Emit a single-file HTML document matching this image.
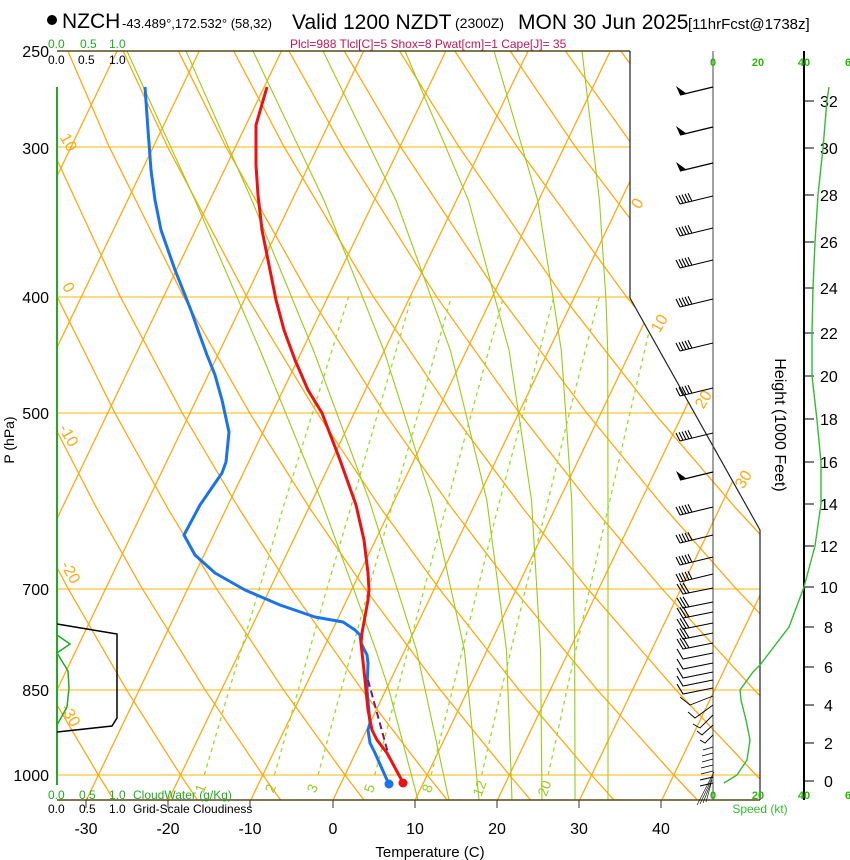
<!DOCTYPE html>
<html><head><meta charset="utf-8">
<style>
html,body{margin:0;padding:0;background:#fff;}
svg{display:block;font-family:"Liberation Sans",Arial,sans-serif;}
</style></head>
<body>
<svg width="850" height="860" viewBox="0 0 850 860" xmlns="http://www.w3.org/2000/svg">
<defs>
<clipPath id="cp"><polygon points="57,51 630,51 630,298 760,530 760,800 57,800"/></clipPath>
<g id="fb" fill="none" stroke="#000" stroke-width="1.1"><path d="M713,0 L680,8 M680,8 l-4,-8 M683,7.3 l-4,-8 M686,6.6 l-4,-8 M689,5.9 l-4,-8 M692,5.2 l-4,-8"/></g>
<g id="pb"><path d="M713,0 L680,8" stroke="#000" stroke-width="1.4"/><polygon points="680,8 676,-1 687,7" fill="#000"/></g>
<g id="lb3" fill="none" stroke="#000" stroke-width="1.1"><path d="M713,0 L683,6 l-6,-10 M686,5.4 l-6,-10 M689,4.8 l-6,-10"/></g>
<g id="lb1" fill="none" stroke="#000" stroke-width="1.1"><path d="M713,0 L683,6 l-6,-10"/></g>
</defs>
<g clip-path="url(#cp)" fill="none">
<g stroke="#ffc43d" stroke-width="1.2">
<line x1="57" y1="775" x2="760" y2="775"/><line x1="57" y1="690" x2="760" y2="690"/><line x1="57" y1="589" x2="760" y2="589"/>
<line x1="57" y1="413" x2="760" y2="413"/><line x1="57" y1="297" x2="760" y2="297"/><line x1="57" y1="147" x2="760" y2="147"/>
</g>
<g stroke="#fcaa12" stroke-width="1.3">
<line x1="-242.4" y1="800" x2="117.1" y2="51"/><line x1="-160.2" y1="800" x2="199.3" y2="51"/><line x1="-78" y1="800" x2="281.5" y2="51"/>
<line x1="4.2" y1="800" x2="363.7" y2="51"/><line x1="86.4" y1="800" x2="445.9" y2="51"/><line x1="168.6" y1="800" x2="528.1" y2="51"/>
<line x1="250.8" y1="800" x2="610.3" y2="51"/><line x1="333" y1="800" x2="692.5" y2="51"/><line x1="415.2" y1="800" x2="774.7" y2="51"/>
<line x1="497.4" y1="800" x2="856.9" y2="51"/><line x1="579.6" y1="800" x2="939.1" y2="51"/><line x1="661.8" y1="800" x2="1021.3" y2="51"/>
</g>
<g stroke="#fcaa12" stroke-width="1.3">
<polyline points="114.3,800.5 98.4,775 48.3,690.2 -6,588.8"/>
<polyline points="197.7,800.5 180.6,775 126.8,690.2 68.2,588.8 25.8,508.4"/>
<polyline points="281,800.5 262.8,775 205.3,690.2 142.4,588.8 96.8,508.4 47.6,413.2"/>
<polyline points="364.3,800.5 345,775 283.8,690.2 216.6,588.8 167.8,508.4 115,413.2 57.1,296.7 -7.4,146.5"/>
<polyline points="447.7,800.5 427.2,775 362.2,690.2 290.9,588.8 238.9,508.4 182.4,413.2 120.3,296.7 50.9,146.5 20,51.4"/>
<polyline points="531,800.5 509.4,775 440.7,690.2 365.1,588.8 309.9,508.4 249.8,413.2 183.6,296.7 109.1,146.5 68,51.4"/>
<polyline points="614.4,800.5 591.6,775 519.2,690.2 439.3,588.8 380.9,508.4 317.3,413.2 246.8,296.7 167.4,146.5 123.3,51.4"/>
<polyline points="697.8,800.5 673.8,775 597.6,690.2 513.5,588.8 452,508.4 384.7,413.2 310.1,296.7 225.7,146.5 178.6,51.4"/>
<polyline points="781.1,800.5 756,775 676.1,690.2 587.7,588.8 523,508.4 452.1,413.2 373.4,296.7 283.9,146.5 233.9,51.4"/>
<polyline points="865,800.5 838.2,775 754.6,690.2 662,588.8 594,508.4 519.5,413.2 436.6,296.7 342.2,146.5 289.2,51.4"/>
<polyline points="920,775 833,690.2 736.2,588.8 665.1,508.4 586.9,413.2 499.9,296.7 400.4,146.5 344.5,51.4"/>
<polyline points="900,690 810.4,588.8 736.1,508.4 654.3,413.2 563.1,296.7 458.7,146.5 399.8,51.4"/>
<polyline points="880,588 807.1,508.4 721.7,413.2 626.4,296.7 516.9,146.5 455.1,51.4"/>
<polyline points="860,500 789.2,413.2 689.6,296.7 575.2,146.5 510.4,51.4"/>
<polyline points="840,350 752.9,296.7 633.5,146.5 565.7,51.4"/>
<polyline points="800,200 691.7,146.5 621,51.4"/>
<polyline points="850,120 749.9,146.5 676.3,51.4"/>
</g>
<g stroke="#99dd22" stroke-width="1.3" stroke-dasharray="4,4">
<polyline points="204.3,775 229.1,690.2 259.3,588.8 282.9,508.4 312.5,413.2 348.6,296.7"/>
<polyline points="274.5,775 298.2,690.2 326.9,588.8 350.5,508.4 377.8,413.2 411.8,296.7"/>
<polyline points="318.1,775 341,690.2 368.8,588.8 391.3,508.4 418.2,413.2 451.3,296.7"/>
<polyline points="374.7,775 397.5,690.2 424.2,588.8 445.7,508.4 471.5,413.2 503.6,296.7"/>
<polyline points="431.2,775 452.3,690.2 477.7,588.8 497.7,508.4 523.1,413.2 553.9,296.7"/>
<polyline points="481.7,775 501.3,690.2 525.6,588.8 546.2,508.4 569.3,413.2 599.2,296.7"/>
<polyline points="548.2,775 566.8,690.2 589.7,588.8 608,508.4 629.9,413.2 657.3,296.7"/>
</g>
<g stroke="#99cc11" stroke-width="1.1">
<polyline points="418,800 389,690 375.8,650 321.1,500 260.4,351 195.4,201 127,51"/>
<polyline points="449,800 416.5,650 369.1,500 313.7,351 252.2,201 186,51"/>
<polyline points="479,800 464.4,650 431.4,500 384.1,351 324.3,201 253,51"/>
<polyline points="512,800 506.5,650 486.8,500 450.6,351 396.3,201 323,51"/>
<polyline points="542,800 540.5,650 531.5,500 509.2,351 468.7,201 405,51"/>
<polyline points="575,800 574.7,650 571.7,500 561.4,351 537.9,201 494,51"/>
<polyline points="608,800 608,500 607.7,350 606,300 599.5,201 582,51"/>
</g>
</g>
<g font-size="16" fill="#fcaa12" text-anchor="middle">
<text transform="translate(64,145) rotate(60)">10</text>
<text transform="translate(64,290) rotate(60)">0</text>
<text transform="translate(64,438) rotate(60)">-10</text>
<text transform="translate(66,575) rotate(60)">-20</text>
<text transform="translate(66,718) rotate(60)">-30</text>
<text transform="translate(642,206) rotate(-60)">0</text>
<text transform="translate(664,326) rotate(-60)">10</text>
<text transform="translate(708,402) rotate(-60)">20</text>
<text transform="translate(748,482) rotate(-60)">30</text>
</g>
<g font-size="14" fill="#99cc22" text-anchor="middle">
<text transform="translate(205,790) rotate(-70)">1</text>
<text transform="translate(275,790) rotate(-70)">2</text>
<text transform="translate(317,790) rotate(-70)">3</text>
<text transform="translate(374,790) rotate(-70)">5</text>
<text transform="translate(432,790) rotate(-70)">8</text>
<text transform="translate(484,790) rotate(-70)">12</text>
<text transform="translate(549,790) rotate(-70)">20</text>
</g>
<line x1="57" y1="51" x2="630" y2="51" stroke="#5a4a1a" stroke-width="1.5"/>
<polyline points="630,51 630,298 760,530 760,800" fill="none" stroke="#222" stroke-width="1.2"/>
<line x1="57" y1="800" x2="760" y2="800" stroke="#5a4a1a" stroke-width="1.5"/>
<g stroke="#333"><line x1="86" y1="800" x2="86" y2="808"/><line x1="168" y1="800" x2="168" y2="808"/><line x1="250" y1="800" x2="250" y2="808"/><line x1="333" y1="800" x2="333" y2="808"/><line x1="415" y1="800" x2="415" y2="808"/><line x1="497" y1="800" x2="497" y2="808"/><line x1="579" y1="800" x2="579" y2="808"/><line x1="661" y1="800" x2="661" y2="808"/></g>
<line x1="713" y1="51" x2="713" y2="800" stroke="#444" stroke-width="1"/>
<line x1="804" y1="51" x2="804" y2="800" stroke="#000" stroke-width="2"/>
<g stroke="#000"><line x1="804" y1="101" x2="814" y2="101"/><line x1="804" y1="148" x2="814" y2="148"/><line x1="804" y1="195" x2="814" y2="195"/><line x1="804" y1="242" x2="814" y2="242"/><line x1="804" y1="288" x2="814" y2="288"/><line x1="804" y1="333" x2="814" y2="333"/><line x1="804" y1="376" x2="814" y2="376"/><line x1="804" y1="419" x2="814" y2="419"/><line x1="804" y1="462" x2="814" y2="462"/><line x1="804" y1="504" x2="814" y2="504"/><line x1="804" y1="546" x2="814" y2="546"/><line x1="804" y1="587" x2="814" y2="587"/><line x1="804" y1="627" x2="814" y2="627"/><line x1="804" y1="667" x2="814" y2="667"/><line x1="804" y1="705" x2="814" y2="705"/><line x1="804" y1="743" x2="814" y2="743"/><line x1="804" y1="781" x2="814" y2="781"/></g>
<g font-size="16"><text x="820" y="107">32</text><text x="820" y="154">30</text><text x="820" y="201">28</text><text x="820" y="248">26</text><text x="820" y="294">24</text><text x="820" y="339">22</text><text x="820" y="382">20</text><text x="820" y="425">18</text><text x="820" y="468">16</text><text x="820" y="510">14</text><text x="820" y="552">12</text><text x="820" y="593">10</text><text x="824" y="633">8</text><text x="824" y="673">6</text><text x="824" y="711">4</text><text x="824" y="749">2</text><text x="824" y="787">0</text></g>
<line x1="57" y1="87" x2="57" y2="785" stroke="#22aa22" stroke-width="2"/>
<polyline points="57,624 117,634 117,718 112,726 57,732" fill="none" stroke="#000" stroke-width="1.5"/>
<polyline points="57,635 70,644 57,653 68,671 69,688 67,707 57,725" fill="none" stroke="#22aa22" stroke-width="1.5"/>
<path d="M145,87L148,130L151,170L155,200L161,230L168,250L175,270L183,290L192,313L199,333L207,355L215,375L222,400L229,432L226,462L222,473L200,505L184,535L195,555L215,573L245,590L280,605L315,617L343,622L355,630L360,635L361,643L367,655L368,663L367,690L370,723L368,730L370,743L375,753L387,780L389,784" fill="none" stroke="#1a73ee" stroke-width="3" stroke-linejoin="round"/>
<path d="M267,87L256,125L256,165L258,195L262,230L270,270L276,300L284,330L295,360L308,390L322,413L340,460L356,505L364,540L368,573L369,590L368,600L362,633L361,643L365,680L368,710L372,730L377,740L387,753L400,777L403,783" fill="none" stroke="#ee1111" stroke-width="3" stroke-linejoin="round"/>
<line x1="368" y1="680" x2="388" y2="753" stroke="#7a1a6a" stroke-width="2" stroke-dasharray="7,4"/>
<circle cx="389" cy="784" r="4.5" fill="#1a73ee"/>
<circle cx="403" cy="783" r="4.5" fill="#ee1111"/>
<path d="M829,87L827,100L823,148L818,195L815,242L813,288L812,333L812,376L817,420L821,462L821,504L815,546L804,587L789,627L760,665L753,672L740,690L741,700L746,720L750,740L747,760L737,775L724,783" fill="none" stroke="#33bb33" stroke-width="1.4"/>
<use href="#pb" y="87"/><use href="#pb" y="127"/><use href="#pb" y="163"/><use href="#pb" y="472"/>
<use href="#fb" y="196"/><use href="#fb" y="228"/><use href="#fb" y="260"/><use href="#fb" y="299"/><use href="#fb" y="343"/><use href="#fb" y="388"/><use href="#fb" y="433"/><use href="#fb" y="507"/><use href="#fb" y="535"/><use href="#fb" y="557"/><use href="#fb" y="574"/>
<use href="#lb3" y="588"/><use href="#lb3" y="602"/><use href="#lb3" y="612"/><use href="#lb3" y="623"/><use href="#lb3" y="633"/><use href="#lb3" y="643"/>
<use href="#lb1" y="653"/><use href="#lb1" y="663"/><use href="#lb1" y="672"/><use href="#lb1" y="680"/><use href="#lb1" y="688"/>
<g fill="none" stroke="#000" stroke-width="0.9">
<polyline points="713,696 690,705 680,697"/><polyline points="713,705 695,718 688,712"/><polyline points="713,715 700,728 693,724"/><polyline points="713,725 702,735 697,731"/><polyline points="713,735 705,743 700,740"/>
<path d="M713,747 L703,750 M713,753 L702,756 M713,759 L702,762 M713,765 L701,768 M713,771 L701,774 M713,777 L700,780 M713,783 L700,786"/>
</g>
<g fill="none" stroke="#000" stroke-width="0.6">
<path d="M714,772 L697,805 M713,776 L700,804 M712,780 L703,803 M711,784 L706,802"/>
</g>
<circle cx="52" cy="20" r="5" fill="#000"/>
<text x="62" y="28" font-size="21">NZCH</text>
<text x="122" y="28" font-size="13">-43.489°,172.532° (58,32)</text>
<text x="292" y="29" font-size="21">Valid 1200 NZDT</text>
<text x="455" y="28" font-size="14">(2300Z)</text>
<text x="518" y="29" font-size="21">MON 30 Jun 2025</text>
<text x="688" y="29" font-size="15">[11hrFcst@1738z]</text>
<text x="290" y="48" font-size="12" fill="#c0185a">Plcl=988 Tlcl[C]=5 Shox=8 Pwat[cm]=1 Cape[J]= 35</text>
<g font-size="12">
<text x="48" y="48" fill="#22aa22">0.0</text><text x="80" y="48" fill="#22aa22">0.5</text><text x="109" y="48" fill="#22aa22">1.0</text>
<text x="48" y="64">0.0</text><text x="78" y="64">0.5</text><text x="109" y="64">1.0</text>
<text x="48" y="799" fill="#22aa22">0.0</text><text x="79" y="799" fill="#22aa22">0.5</text><text x="109" y="799" fill="#22aa22">1.0</text><text x="133" y="799" fill="#22aa22">CloudWater (g/Kg)</text>
<text x="48" y="813">0.0</text><text x="79" y="813">0.5</text><text x="109" y="813">1.0</text><text x="133" y="813">Grid-Scale Cloudiness</text>
</g>
<g font-size="16" text-anchor="end">
<text x="49" y="57">250</text><text x="49" y="154">300</text><text x="49" y="303">400</text>
<text x="49" y="419">500</text><text x="49" y="595">700</text><text x="49" y="696">850</text><text x="49" y="781">1000</text>
</g>
<text transform="translate(14,440) rotate(-90)" font-size="14" text-anchor="middle">P (hPa)</text>
<g font-size="16" text-anchor="middle">
<text x="86" y="834">-30</text><text x="168" y="834">-20</text><text x="250" y="834">-10</text><text x="333" y="834">0</text>
<text x="415" y="834">10</text><text x="497" y="834">20</text><text x="579" y="834">30</text><text x="661" y="834">40</text>
</g>
<text x="430" y="857" font-size="15" text-anchor="middle">Temperature (C)</text>
<text transform="translate(775,425) rotate(90)" font-size="16" text-anchor="middle">Height (1000 Feet)</text>
<g font-size="11" font-weight="bold" fill="#22bb00" text-anchor="middle">
<text x="713" y="66">0</text><text x="758" y="66">20</text><text x="804" y="66">40</text><text x="848" y="66">6</text>
<text x="713" y="799">0</text><text x="758" y="799">20</text><text x="804" y="799">40</text><text x="848" y="799">6</text>
</g>
<text x="760" y="813" font-size="12" fill="#33bb33" text-anchor="middle">Speed (kt)</text>
</svg>
</body></html>
